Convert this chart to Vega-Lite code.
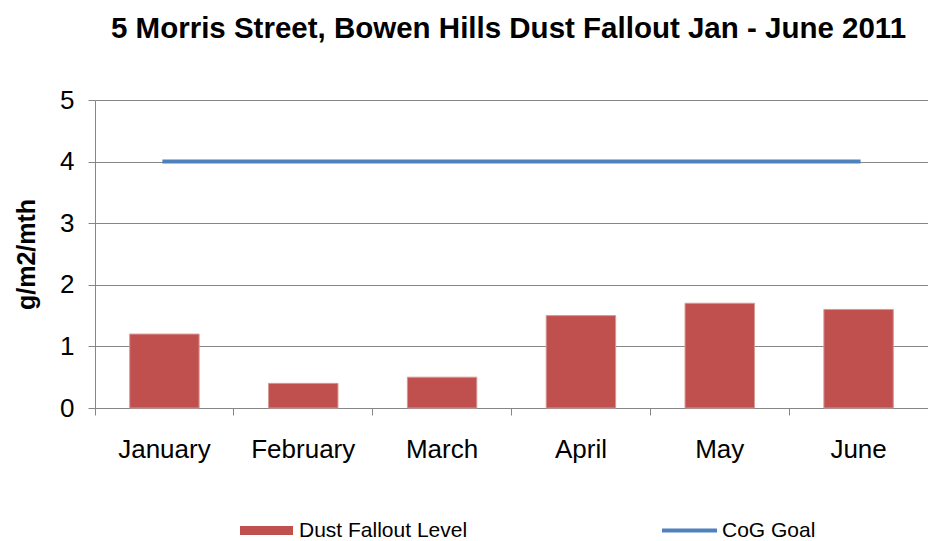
{
  "$schema": "https://vega.github.io/schema/vega-lite/v6.json",
  "width": 833,
  "height": 308,
  "autosize": {"type": "none"},
  "padding": {"left": 95, "top": 100, "right": 0, "bottom": 133},
  "background": "white",
  "title": {
    "text": "5 Morris Street, Bowen Hills Dust Fallout Jan - June 2011",
    "font": "Liberation Sans",
    "fontSize": 29.5,
    "fontWeight": "bold",
    "color": "#000000",
    "anchor": "middle",
    "baseline": "alphabetic",
    "offset": 20,
    "dx": -3
  },
  "data": {
    "values": [
      {"month": "January", "dust": 1.2, "goal": 4},
      {"month": "February", "dust": 0.4, "goal": 4},
      {"month": "March", "dust": 0.5, "goal": 4},
      {"month": "April", "dust": 1.5, "goal": 4},
      {"month": "May", "dust": 1.7, "goal": 4},
      {"month": "June", "dust": 1.6, "goal": 4}
    ]
  },
  "encoding": {
    "x": {
      "field": "month",
      "type": "nominal",
      "sort": null,
      "scale": {"paddingInner": 0, "paddingOuter": 0},
      "axis": {
        "title": null,
        "labelAngle": 0,
        "bandPosition": 0,
        "labelFont": "Liberation Sans",
        "labelFontSize": 26,
        "labelColor": "#000000",
        "labelPadding": 21,
        "tickSize": 7,
        "tickColor": "#868686",
        "domainColor": "#868686",
        "grid": false
      }
    }
  },
  "layer": [
    {
      "mark": {"type": "bar", "width": {"band": 0.5}, "stroke": "#D99694", "strokeWidth": 1},
      "encoding": {
        "y": {
          "field": "dust",
          "type": "quantitative",
          "scale": {"domain": [0, 5], "nice": false},
          "axis": {
            "title": "g/m2/mth",
            "values": [0, 1, 2, 3, 4, 5],
            "format": "d",
            "labelFont": "Liberation Sans",
            "labelFontSize": 26,
            "labelColor": "#000000",
            "labelPadding": 14,
            "tickSize": 7,
            "tickColor": "#868686",
            "domainColor": "#868686",
            "gridColor": "#868686",
            "titleFont": "Liberation Sans",
            "titleFontSize": 25,
            "titleFontWeight": "bold",
            "titleColor": "#000000",
            "titleX": -69,
            "titleY": 154,
            "titleAngle": -90,
            "titleAlign": "center",
            "titleBaseline": "middle"
          }
        },
        "color": {
          "datum": "Dust Fallout Level",
          "scale": {"range": ["#C0504D"]},
          "legend": {
            "title": null,
            "orient": "none",
            "legendX": 145,
            "legendY": 404,
            "padding": 0,
            "symbolType": "M-1,-0.17H1V0.17H-1Z",
            "symbolSize": 2809,
            "symbolStrokeWidth": 0,
            "labelOffset": 6,
            "labelLimit": 400,
            "labelFont": "Liberation Sans",
            "labelFontSize": 21,
            "labelColor": "#000000"
          }
        }
      }
    },
    {
      "mark": {"type": "line", "strokeWidth": 4, "strokeCap": "square"},
      "encoding": {
        "y": {"field": "goal", "type": "quantitative"},
        "stroke": {
          "datum": "CoG Goal",
          "scale": {"range": ["#4F81BD"]},
          "legend": {
            "title": null,
            "orient": "none",
            "legendX": 565,
            "legendY": 401,
            "padding": 0,
            "symbolType": "stroke",
            "symbolSize": 3025,
            "symbolStrokeWidth": 4,
            "labelOffset": 3,
            "labelLimit": 400,
            "labelFont": "Liberation Sans",
            "labelFontSize": 21,
            "labelColor": "#000000"
          }
        }
      }
    }
  ],
  "config": {
    "view": {"stroke": null}
  }
}
